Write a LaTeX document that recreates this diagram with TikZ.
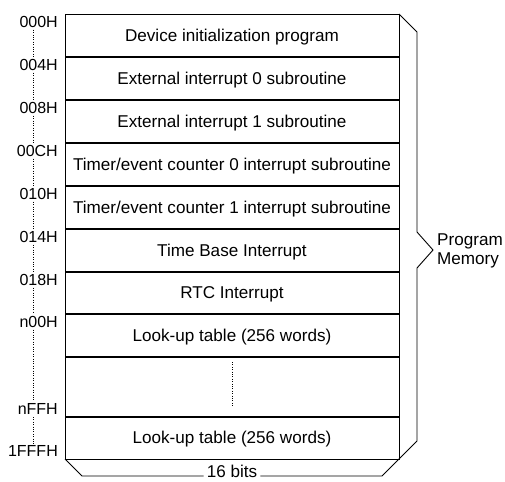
\documentclass[tikz,border=0pt]{standalone}
\usepackage{fontspec}
\setmainfont{Liberation Sans}
\begin{document}
\begin{tikzpicture}[x=1pt,y=-1pt,
  cell/.style={inner sep=0pt,font=\fontsize{17.1}{19.5}\selectfont},
  addr/.style={inner sep=0pt,font=\fontsize{16}{19}\selectfont},
  adots/.style={dotted,thin,shorten >=2pt,shorten <=2pt}]
  \useasboundingbox (0,0) rectangle (505,481);
  \draw [line width=0.9pt] (65,14) rectangle (399,459);
  \foreach \y in {57,100,143,186,229,272,314,357,417}
    \draw [line width=1.6pt] (65,\y) -- (399,\y);
  % cells
  \node [cell] (c1) at (232,37) {Device initialization program};
  \node [cell] (c2) at (232,80) {External interrupt 0 subroutine};
  \node [cell] (c3) at (232,123) {External interrupt 1 subroutine};
  \node [cell] (c4) at (232,166) {Timer/event counter 0 interrupt subroutine};
  \node [cell] (c5) at (232,209) {Timer/event counter 1 interrupt subroutine};
  \node [cell] (c6) at (232,252) {Time Base Interrupt};
  \node [cell] (c7) at (232,294) {RTC Interrupt};
  \node [cell] (c8) at (232,337) {Look-up table (256 words)};
  \node [cell] (c10) at (232,439) {Look-up table (256 words)};
  \coordinate (gaptop) at (232,362);
  \coordinate (gapbot) at (232,407);
  \draw [dotted,thin] (gaptop) -- (gapbot);
  % addresses
  \node [addr,anchor=north east] (a0) at (58,16) {000H};
  \node [addr,anchor=north east] (a1) at (58,59) {004H};
  \node [addr,anchor=north east] (a2) at (58,102) {008H};
  \node [addr,anchor=north east] (a3) at (58,145) {00CH};
  \node [addr,anchor=north east] (a4) at (58,188) {010H};
  \node [addr,anchor=north east] (a5) at (58,231) {014H};
  \node [addr,anchor=north east] (a6) at (58,274) {018H};
  \node [addr,anchor=north east] (a7) at (58,316) {n00H};
  \node [addr,anchor=south east] (a8) at (58,415) {nFFH};
  \node [addr,anchor=south east] (a9) at (58,457) {1FFFH};
  \coordinate (dotx) at (33,0);
  \foreach \i/\j in {a0/a1,a1/a2,a2/a3,a3/a4,a4/a5,a5/a6,a6/a7,a7/a8,a8/a9}
    \draw [adots] (\i.south -| dotx) -- (\j.north -| dotx);
  % right brace
  \draw [line width=0.9pt] (399,14) -- (417,32) -- (417,232) -- (433,250) -- (417,268) -- (417,441) -- (399,459);
  \node [cell,anchor=west,align=left] (pm) at (437,251) {Program\\Memory};
  % bottom brace
  \node [cell,fill=white,inner xsep=3pt] (bits) at (232,471) {16 bits};
  \draw [line width=0.9pt] (65,459) -- (82,476) -- (bits.west |- 0,476);
  \draw [line width=0.9pt] (bits.east |- 0,476) -- (382,476) -- (399,459);
\end{tikzpicture}
\end{document}
